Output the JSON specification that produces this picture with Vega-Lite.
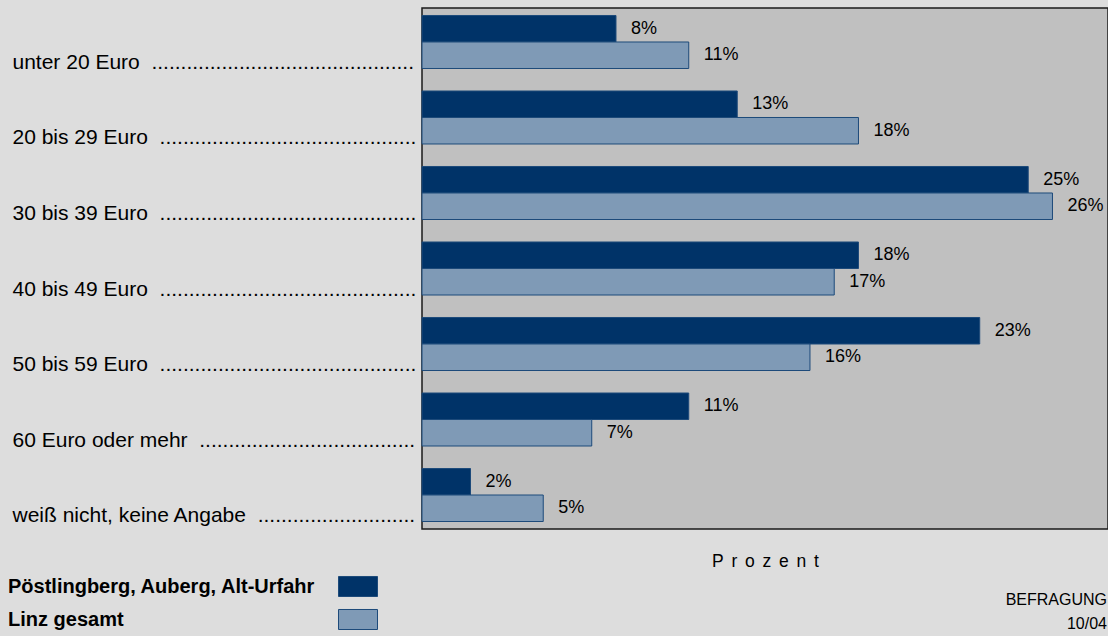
{
  "$schema": "https://vega.github.io/schema/vega-lite/v6.json",
  "width": 686,
  "height": 521,
  "autosize": "none",
  "padding": {"left": 422, "top": 8, "right": 0, "bottom": 107},
  "background": "#dddddd",
  "config": {
    "font": "Liberation Sans",
    "view": {"fill": "#c0c0c0", "stroke": "#1a1a1a", "strokeWidth": 1.5}
  },
  "title": {
    "text": ["BEFRAGUNG", "10/04"],
    "orient": "bottom",
    "anchor": "end",
    "align": "right",
    "fontSize": 16,
    "fontWeight": "normal",
    "color": "#000000",
    "lineHeight": 24,
    "offset": -41,
    "dx": -1
  },
  "data": {
    "values": [
      {"category": "unter 20 Euro\u00a0\u00a0.............................................", "series": "Pöstlingberg, Auberg, Alt-Urfahr", "value": 0.08},
      {"category": "unter 20 Euro\u00a0\u00a0.............................................", "series": "Linz gesamt", "value": 0.11},
      {"category": "20 bis 29 Euro\u00a0\u00a0............................................", "series": "Pöstlingberg, Auberg, Alt-Urfahr", "value": 0.13},
      {"category": "20 bis 29 Euro\u00a0\u00a0............................................", "series": "Linz gesamt", "value": 0.18},
      {"category": "30 bis 39 Euro\u00a0\u00a0............................................", "series": "Pöstlingberg, Auberg, Alt-Urfahr", "value": 0.25},
      {"category": "30 bis 39 Euro\u00a0\u00a0............................................", "series": "Linz gesamt", "value": 0.26},
      {"category": "40 bis 49 Euro\u00a0\u00a0............................................", "series": "Pöstlingberg, Auberg, Alt-Urfahr", "value": 0.18},
      {"category": "40 bis 49 Euro\u00a0\u00a0............................................", "series": "Linz gesamt", "value": 0.17},
      {"category": "50 bis 59 Euro\u00a0\u00a0............................................", "series": "Pöstlingberg, Auberg, Alt-Urfahr", "value": 0.23},
      {"category": "50 bis 59 Euro\u00a0\u00a0............................................", "series": "Linz gesamt", "value": 0.16},
      {"category": "60 Euro oder mehr\u00a0\u00a0.....................................", "series": "Pöstlingberg, Auberg, Alt-Urfahr", "value": 0.11},
      {"category": "60 Euro oder mehr\u00a0\u00a0.....................................", "series": "Linz gesamt", "value": 0.07},
      {"category": "weiß nicht, keine Angabe\u00a0\u00a0...........................", "series": "Pöstlingberg, Auberg, Alt-Urfahr", "value": 0.02},
      {"category": "weiß nicht, keine Angabe\u00a0\u00a0...........................", "series": "Linz gesamt", "value": 0.05}
    ]
  },
  "encoding": {
    "y": {
      "field": "category",
      "type": "nominal",
      "sort": null,
      "scale": {"paddingInner": 0.298, "paddingOuter": 0.0993},
      "axis": {
        "title": null,
        "domain": false,
        "ticks": false,
        "tickSize": 0,
        "grid": false,
        "labelAlign": "left",
        "labelBaseline": "middle",
        "labelPadding": 410,
        "labelOffset": 21,
        "labelFontSize": 21,
        "labelColor": "#000000",
        "labelLimit": 0
      }
    },
    "yOffset": {
      "field": "series",
      "type": "nominal",
      "sort": ["Pöstlingberg, Auberg, Alt-Urfahr", "Linz gesamt"],
      "scale": {"paddingInner": 0, "paddingOuter": 0}
    },
    "x": {
      "field": "value",
      "type": "quantitative",
      "scale": {"domain": [0, 0.2829], "nice": false, "zero": true},
      "axis": {
        "title": "P\u2006 r\u2006 o\u2006 z\u2006 e\u2006 n\u2006 t",
        "labels": false,
        "ticks": false,
        "domain": false,
        "grid": false,
        "titleFontSize": 17.5,
        "titleFontWeight": "normal",
        "titleColor": "#000000",
        "titlePadding": 23,
        "titleBaseline": "top"
      }
    }
  },
  "layer": [
    {
      "mark": {"type": "bar", "stroke": "#1d4a7a", "strokeWidth": 1},
      "encoding": {
        "color": {
          "field": "series",
          "type": "nominal",
          "scale": {
            "domain": ["Pöstlingberg, Auberg, Alt-Urfahr", "Linz gesamt"],
            "range": ["#003368", "#7f9ab6"]
          },
          "legend": {
            "title": null,
            "orient": "none",
            "legendX": -84,
            "legendY": 558.5,
            "padding": 0,
            "labelAlign": "left",
            "labelOffset": -370,
            "labelFontSize": 20,
            "labelFontWeight": "bold",
            "labelColor": "#000000",
            "labelLimit": 0,
            "symbolType": "M-1,-0.513H1V0.513H-1Z",
            "symbolSize": 1521,
            "symbolStrokeColor": "#1d4a7a",
            "symbolStrokeWidth": 1,
            "symbolOpacity": 1,
            "rowPadding": -1.5
          }
        }
      }
    },
    {
      "mark": {"type": "text", "align": "left", "baseline": "middle", "dx": 15, "fontSize": 18, "color": "#000000"},
      "encoding": {
        "text": {"field": "value", "type": "quantitative", "format": ".0%"}
      }
    }
  ]
}
